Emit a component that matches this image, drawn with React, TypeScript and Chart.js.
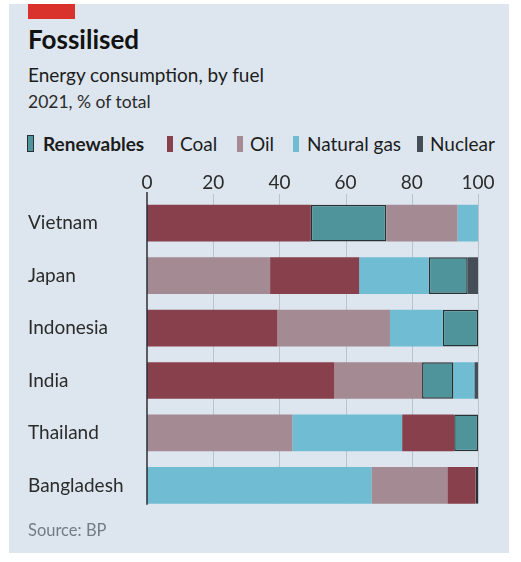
import React, { useEffect, useRef } from 'react';
import { Chart, registerables } from 'chart.js';

Chart.register(...registerables);

// ---- Data (2021, % of total energy consumption) ----
const countries = ['Vietnam', 'Japan', 'Indonesia', 'India', 'Thailand', 'Bangladesh'];
const fuels = ['Renewables', 'Coal', 'Oil', 'Natural gas', 'Nuclear'];
const renewables = [22.8, 11.8, 10.6, 9.5, 7.2, 0.7];
const coal = [49.5, 26.9, 39.4, 56.6, 15.7, 8.5];
const oil = [21.5, 37.2, 34.0, 26.5, 43.9, 22.9];
const naturalGas = [6.2, 21.0, 16.0, 6.3, 33.2, 67.9];
const nuclear = [0, 3.1, 0, 1.1, 0, 0];
const xTicks = [0, 20, 40, 60, 80, 100];

const fuelColors = ['#50949b', '#88404c', '#a48a93', '#70bcd2', '#454e56'];
const FONT = 'Lato, "Open Sans", sans-serif';

const gridPlugin = {
  id: 'customGrid',
  beforeDatasetsDraw(chart: any) {
    const { ctx, chartArea, scales } = chart;
    const x = scales.x;
    const meta = chart.getDatasetMeta(0);
    const last = meta.data[meta.data.length - 1];
    const bottom = last.y + last.height / 2;
    ctx.save();
    ctx.strokeStyle = '#b9c3cc';
    ctx.lineWidth = 1;
    xTicks.forEach((v) => {
      if (v === 0) return;
      const px = Math.round(x.getPixelForValue(v)) + 0.5;
      ctx.beginPath();
      ctx.moveTo(px, chartArea.top - 3);
      ctx.lineTo(px, bottom);
      ctx.stroke();
    });
    ctx.restore();
  },
  afterDatasetsDraw(chart: any) {
    const { ctx, chartArea, scales } = chart;
    const x = scales.x;
    const meta = chart.getDatasetMeta(0);
    const last = meta.data[meta.data.length - 1];
    const bottom = last.y + last.height / 2 + 1;
    const px = x.getPixelForValue(0);
    ctx.save();
    ctx.strokeStyle = '#2a2f33';
    ctx.lineWidth = 1.5;
    ctx.beginPath();
    ctx.moveTo(px, chartArea.top - 5);
    ctx.lineTo(px, bottom);
    ctx.stroke();
    ctx.restore();
  },
};

export default function App() {
  const ref = useRef<HTMLCanvasElement>(null);

  useEffect(() => {
    const series = [renewables, coal, oil, naturalGas, nuclear];
    const ranges: [number, number][][] = series.map(() => []);
    countries.forEach((_, i) => {
      const order = series.map((_s, k) => k).sort((a, b) => series[b][i] - series[a][i]);
      let acc = 0;
      order.forEach((k) => {
        ranges[k][i] = [acc, acc + series[k][i]];
        acc += series[k][i];
      });
    });

    const datasets = fuels.map((f, k) => ({
      label: f,
      data: ranges[k],
      backgroundColor: fuelColors[k],
      borderColor: k === 0 ? '#263236' : fuelColors[k],
      borderWidth: k === 0 ? 1.5 : 0,
      borderSkipped: false,
      grouped: false,
      barPercentage: 0.7,
      categoryPercentage: 1,
    }));

    const chart = new Chart(ref.current!, {
      type: 'bar',
      data: { labels: countries, datasets },
      plugins: [gridPlugin],
      options: {
        indexAxis: 'y',
        animation: false,
        responsive: false,
        maintainAspectRatio: false,
        layout: { padding: { left: 0, right: 20, top: 0, bottom: 0 } },
        plugins: { legend: { display: false }, tooltip: { enabled: false } },
        scales: {
          x: {
            type: 'linear',
            position: 'top',
            min: 0,
            max: 100,
            afterFit: (s: any) => { s.height = 31; },
            afterBuildTicks: (s: any) => { s.ticks = xTicks.map((v) => ({ value: v })); },
            grid: { display: false, drawTicks: false },
            border: { display: false },
            ticks: {
              padding: 3,
              color: '#2b2b2b',
              font: { family: FONT, size: 19 },
            },
          },
          y: {
            type: 'category',
            afterFit: (s: any) => { s.width = 119; },
            grid: { display: false, drawTicks: false },
            border: { display: false },
            ticks: {
              crossAlign: 'far',
              color: '#2b2b2b',
              font: { family: FONT, size: 19 },
            },
          },
        },
      },
    } as any);
    return () => chart.destroy();
  }, []);

  const legendItems = [
    { label: 'Renewables', left: 18, textLeft: 34, bold: true },
    { label: 'Coal', left: 158, textLeft: 171 },
    { label: 'Oil', left: 228, textLeft: 241 },
    { label: 'Natural gas', left: 284, textLeft: 298 },
    { label: 'Nuclear', left: 408, textLeft: 421 },
  ];

  return (
    <div
      style={{
        position: 'absolute',
        left: 9,
        top: 4,
        width: 500,
        height: 549,
        background: '#dde6ee',
        fontFamily: FONT,
      }}
    >
      <div style={{ position: 'absolute', left: 19, top: 0, width: 47, height: 15, background: '#d9322d' }} />
      <div style={{ position: 'absolute', left: 19, top: 20, fontSize: 26, lineHeight: 1.2, fontWeight: 700, color: '#121212', whiteSpace: 'nowrap' }}>
        Fossilised
      </div>
      <div style={{ position: 'absolute', left: 19, top: 60, fontSize: 19, lineHeight: 1.2, color: '#1c1c1c', whiteSpace: 'nowrap' }}>
        Energy consumption, by fuel
      </div>
      <div style={{ position: 'absolute', left: 19, top: 87, fontSize: 17.5, lineHeight: 1.2, color: '#2b2b2b', whiteSpace: 'nowrap' }}>
        2021, % of total
      </div>
      {legendItems.map((it, k) => (
        <React.Fragment key={it.label}>
          <div
            style={{
              position: 'absolute',
              left: it.left,
              top: k === 0 ? 131 : 132,
              width: k === 0 ? 5 : 6,
              height: k === 0 ? 15 : 16,
              background: fuelColors[k],
              border: k === 0 ? '1.5px solid #263236' : 'none',
            }}
          />
          <div
            style={{
              position: 'absolute',
              left: it.textLeft,
              top: 129,
              fontSize: 19,
              lineHeight: 1.2,
              fontWeight: it.bold ? 700 : 400,
              color: '#1c1c1c',
              whiteSpace: 'nowrap',
            }}
          >
            {it.label}
          </div>
        </React.Fragment>
      ))}
      <canvas
        ref={ref}
        width={470}
        height={360}
        style={{ position: 'absolute', left: 19, top: 162, width: 470, height: 360 }}
      />
      <div style={{ position: 'absolute', left: 19, top: 517, fontSize: 16.5, lineHeight: 1.2, color: '#737c84', whiteSpace: 'nowrap' }}>
        Source: BP
      </div>
    </div>
  );
}
